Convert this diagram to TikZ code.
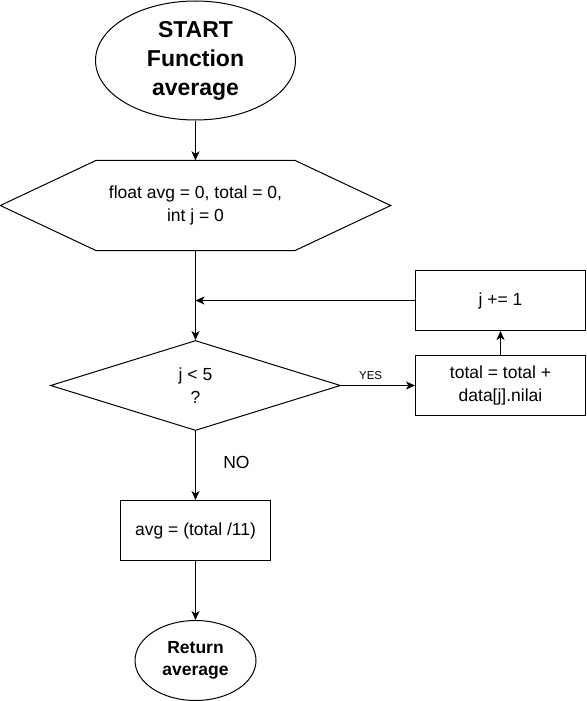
\documentclass[tikz,border=0pt]{standalone}
\usepackage{fontspec}
\setmainfont{Liberation Sans}
\usetikzlibrary{positioning}
\usetikzlibrary{calc}
\usetikzlibrary{shapes.geometric}
\usetikzlibrary{arrows.meta}
\tikzset{
    % A filled arrow head close to the classic flowchart one
    >={Stealth[length=9pt, width=8pt, inset=2.5pt]},
%
    % Common look of every outline in the chart
    chart line/.style={draw, line width=1pt},
%
    % Normal text inside the boxes
    box text/.style={font=\fontsize{17.5}{22.5}\selectfont, align=center},
%
    % Start and end terminals, #1 is the font size and #2 the leading
    terminal/.style 2 args={chart line, ellipse, inner sep=0,
        font=\bfseries\fontsize{#1}{#2}\selectfont, align=center},
%
    % Plain process step
    process box/.style={chart line, rectangle, inner sep=0, box text},
%
    % Initialisation step, its hexagon outline is drawn round it
    prep box/.style={rectangle, inner sep=0, box text},
%
    % Decision diamond
    decision/.style={chart line, diamond, inner sep=0, aspect=3.222, box text},
%
    % Connectors
    flow/.style={line width=1pt, ->}}

\begin{document}
\begin{tikzpicture}[x=1pt, y=-1pt]
\useasboundingbox (0,0) rectangle (586,701);

% Main column
\node [terminal={23}{29}, minimum width=200pt, minimum height=119pt]
    (start) at (195.5,60.5) {START\\Function\\average};
\node [prep box, minimum width=390pt, minimum height=90pt]
    (init) at (195.5,205.5) {float avg = 0, total = 0,\\int j = 0};
\draw [chart line] (init.west) -- ($(init.north west)+(96,0)$)
    -- ($(init.north east)+(-96,0)$) -- (init.east)
    -- ($(init.south east)+(-96,0)$) -- ($(init.south west)+(96,0)$)
    -- cycle;
\node [decision, minimum width=290pt, minimum height=90pt]
    (check) at (195.5,385.5) {j \textless{} 5\\?};
\node [process box, minimum width=150pt, minimum height=60pt]
    (mean) at (195.5,530.5) {avg = (total /11)};
\node [terminal={17.5}{22}, minimum width=121pt, minimum height=80pt]
    (return) at (195.5,660.5) {Return\\average};

% Loop body on the right
\node [process box, minimum width=170pt, minimum height=60pt]
    (sum) at (500.5,385.5) {total = total +\\data[j].nilai};
\node [process box, minimum width=170pt, minimum height=60pt]
    (step up) at (500.5,300.5) {j += 1};
\coordinate (merge) at (init.south |- step up.west);

% Connectors
\draw [flow] (start) -- (init);
\draw [flow] (init) -- (check);
\draw [flow] (check) -- (mean)
    node [pos=0.45, right=24pt, box text] (no label) {NO};
\draw [flow] (mean) -- (return);
\draw [flow] (check.east) -- (sum.west)
    node [pos=0.4, above=2pt, font=\fontsize{11.5}{13}\selectfont]
    (yes label) {YES};
\draw [flow] (sum) -- (step up);
\draw [flow] (step up.west) -- (merge);

\end{tikzpicture}
\end{document}
